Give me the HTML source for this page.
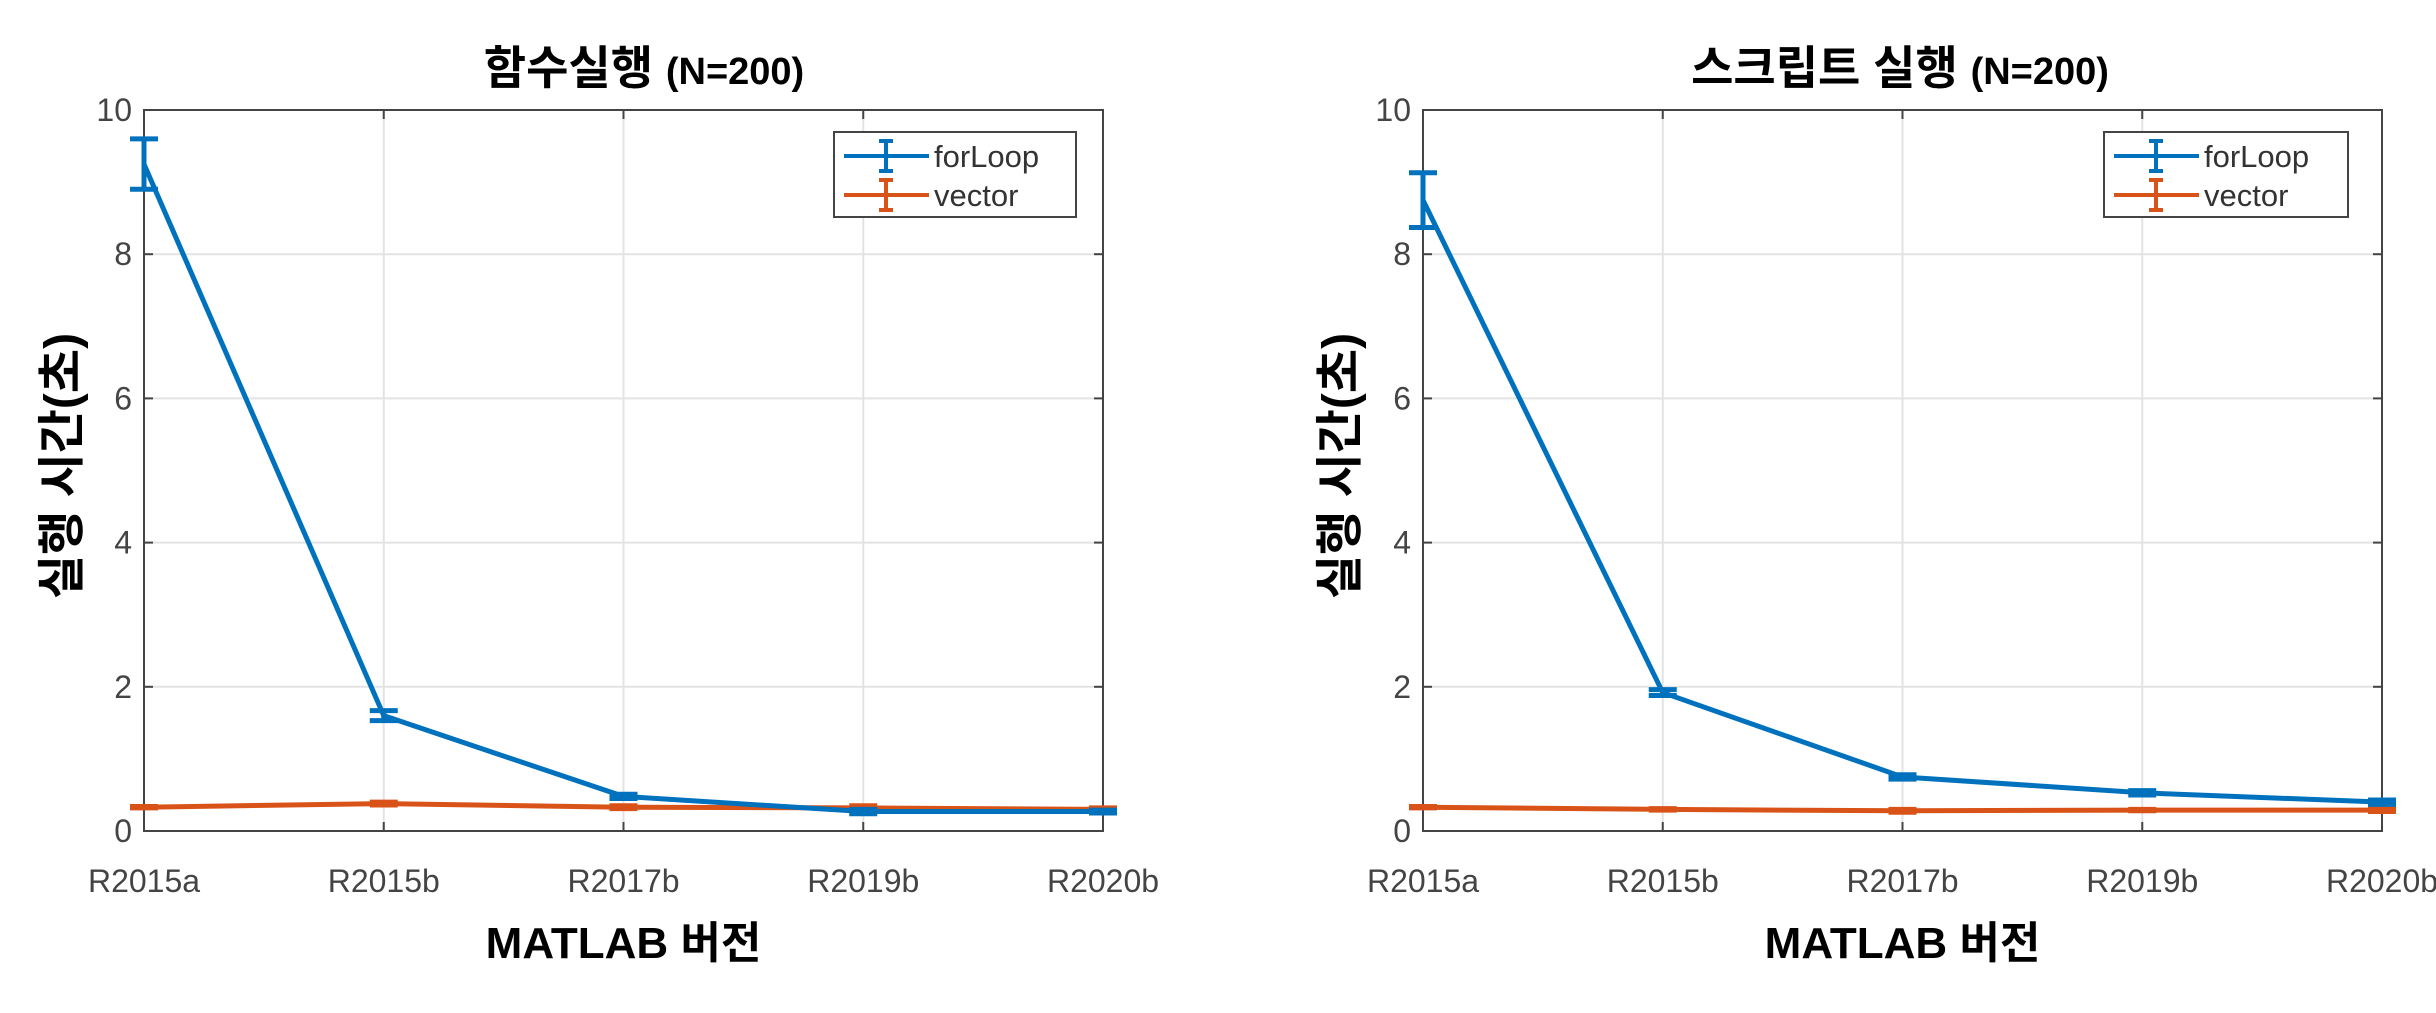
<!DOCTYPE html>
<html><head><meta charset="utf-8"><style>
html,body{margin:0;padding:0;background:#fff;}
svg{display:block;}
</style></head><body>
<svg id="chart" width="2436" height="1013" viewBox="0 0 2436 1013" xmlns="http://www.w3.org/2000/svg"></svg>
<script>
const categories = ["R2015a","R2015b","R2017b","R2019b","R2020b"];
const yTicks = [0,2,4,6,8,10];
const funcTitle = "함수실행";
const scriptTitle = "스크립트 실행";
const funcForLoop = [9.25,1.6,0.48,0.27,0.27];
const funcForLoopErr = [0.35,0.07,0.03,0.03,0.02];
const funcVector = [0.33,0.38,0.33,0.32,0.30];
const funcVectorErr = [0.01,0.02,0.02,0.03,0.02];
const scriptForLoop = [8.75,1.92,0.75,0.53,0.40];
const scriptForLoopErr = [0.38,0.04,0.03,0.03,0.03];
const scriptVector = [0.33,0.30,0.28,0.29,0.29];
const scriptVectorErr = [0.01,0.01,0.02,0.01,0.02];

const NS="http://www.w3.org/2000/svg";
const svg=document.getElementById('chart');
function mk(tag,attrs,parent){const e=document.createElementNS(NS,tag);for(const k in attrs)e.setAttribute(k,attrs[k]);(parent||svg).appendChild(e);return e;}
const BLUE="#0072BD", ORANGE="#D95319";
const FONT='"Liberation Sans","Noto Sans CJK KR",sans-serif';

function panel(cfg){
  const g=mk('g',{});
  
  
  const L=cfg.x0,R=cfg.x1,T=110,B=831;
  const xs=i=>L+(R-L)*i/(categories.length-1);
  const ys=v=>B-(B-T)*v/10;
  yTicks.forEach(t=>{ if(t>0&&t<10){const l=mk('line',{x1:L,x2:R,y1:ys(t),y2:ys(t),stroke:'#e3e3e3','stroke-width':2},g);
    }});
  categories.forEach((c,i)=>{ if(i>0&&i<categories.length-1){const l=mk('line',{x1:xs(i),x2:xs(i),y1:T,y2:B,stroke:'#e3e3e3','stroke-width':2},g);
    }});
  const box=mk('rect',{x:L,y:T,width:R-L,height:B-T,fill:'none',stroke:'#444','stroke-width':2},g);
  
  yTicks.forEach(t=>{
    mk('line',{x1:L,x2:L+9,y1:ys(t),y2:ys(t),stroke:'#444','stroke-width':2},g);
    mk('line',{x1:R,x2:R-9,y1:ys(t),y2:ys(t),stroke:'#444','stroke-width':2},g);
    const tx=mk('text',{x:L-12,y:ys(t)+11,'text-anchor':'end','font-size':32,fill:'#444','font-family':FONT},g);
    tx.textContent=t;
  });
  categories.forEach((c,i)=>{
    mk('line',{x1:xs(i),x2:xs(i),y1:B,y2:B-9,stroke:'#444','stroke-width':2},g);
    mk('line',{x1:xs(i),x2:xs(i),y1:T,y2:T+9,stroke:'#444','stroke-width':2},g);
    const tx=mk('text',{x:xs(i),y:892,'text-anchor':'middle','font-size':32,fill:'#444','font-family':FONT},g);
    tx.textContent=c;
  });
  function series(vals,errs,color,nm){
    const pts=vals.map((v,i)=>xs(i)+','+ys(v)).join(' ');
    const pl=mk('polyline',{points:pts,fill:'none',stroke:color,'stroke-width':5,'stroke-linejoin':'round'},g);
    
    vals.forEach((v,i)=>{
      const x=xs(i),y1=ys(v-errs[i]),y2=ys(v+errs[i]);
      const eg=mk('g',{stroke:color,'stroke-width':5},g);
      
      mk('line',{x1:x,x2:x,y1:y1,y2:y2},eg);
      mk('line',{x1:x-14,x2:x+14,y1:y1,y2:y1},eg);
      mk('line',{x1:x-14,x2:x+14,y1:y2,y2:y2},eg);
    });
  }
  series(cfg.vec,cfg.vecErr,ORANGE,'vector');
  series(cfg.loop,cfg.loopErr,BLUE,'forloop');
  const lx=cfg.legX, lw=cfg.legW;
  const lg=mk('g',{},g);
  mk('rect',{x:lx,y:132,width:lw,height:85,fill:'#fff',stroke:'#444','stroke-width':2},lg);
  [["forLoop",BLUE,156],["vector",ORANGE,195]].forEach(([n,c,y])=>{
    const e=mk('g',{},lg);
    mk('line',{x1:lx+10,x2:lx+95,y1:y,y2:y,stroke:c,'stroke-width':4},e);
    mk('line',{x1:lx+52,x2:lx+52,y1:y-15,y2:y+15,stroke:c,'stroke-width':4},e);
    mk('line',{x1:lx+45,x2:lx+59,y1:y-15,y2:y-15,stroke:c,'stroke-width':4},e);
    mk('line',{x1:lx+45,x2:lx+59,y1:y+15,y2:y+15,stroke:c,'stroke-width':4},e);
    const t=mk('text',{x:lx+100,y:y+11,'font-size':31,fill:'#333','font-family':FONT},e);t.textContent=n;
  });
  const tt=mk('text',{x:cfg.titleX,y:84,'text-anchor':'middle','font-size':46,'font-weight':'bold',fill:'#000','font-family':FONT},g);
  
  tt.innerHTML=cfg.title+' <tspan font-size="38">(N=200)</tspan>';
  const xl=mk('text',{x:(L+R)/2,y:958,'text-anchor':'middle','font-size':44,'font-weight':'bold',fill:'#000','font-family':FONT},g);
  
  xl.textContent='MATLAB 버전';
  const yl=mk('text',{x:0,y:0,'text-anchor':'middle','font-size':48,'font-weight':'bold',fill:'#000','font-family':FONT,transform:`translate(${cfg.ylX},466) rotate(-90)`},g);
  
  yl.textContent='실행 시간(초)';
}
panel({name:'function-panel',x0:144,x1:1103,loop:funcForLoop,loopErr:funcForLoopErr,vec:funcVector,vecErr:funcVectorErr,legX:834,legW:242,title:funcTitle,titleX:644,ylX:78});
panel({name:'script-panel',x0:1423,x1:2382,loop:scriptForLoop,loopErr:scriptForLoopErr,vec:scriptVector,vecErr:scriptVectorErr,legX:2104,legW:244,title:scriptTitle,titleX:1900,ylX:1356});
</script>
</body></html>
